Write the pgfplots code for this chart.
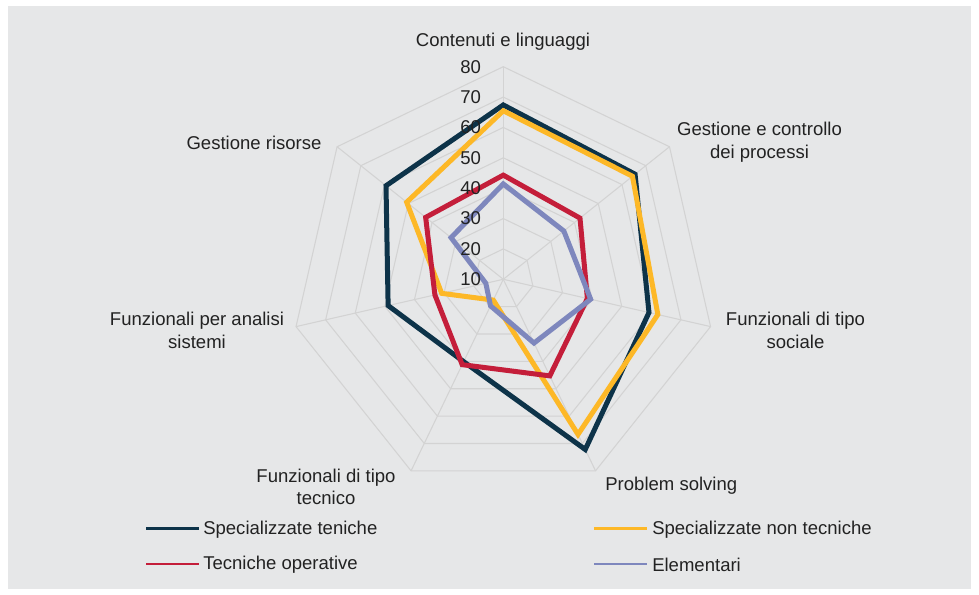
\documentclass[border=0pt]{standalone}
\usepackage{pgfplots}
\pgfplotsset{compat=1.18}
\usepackage{pgfplotstable}
\usepgfplotslibrary{polar}
\usepackage{fontspec}
\setmainfont{Liberation Sans}

\definecolor{bg}{HTML}{E6E7E8}
\definecolor{gridc}{HTML}{D3D3D3}
\definecolor{txt}{HTML}{222222}
\definecolor{cNavy}{HTML}{0D3349}
\definecolor{cYellow}{HTML}{FDB827}
\definecolor{cRed}{HTML}{C41E3A}
\definecolor{cBlue}{HTML}{7E87BD}

% values on the chart's scale (10 at the centre, 80 at the outer ring)
\pgfplotstableread{
angle   st    snt   to    el
90      67.4  65.5  44.3  41.4
38.571  65.5  64.4  42.3  35.5
347.143 59.2  62.2  38.4  39.5
295.714 72.2  66.7  45.3  33.3
244.286 40.1  17.6  41.2  19.7
192.857 48.9  30.8  33.1  15.9
141.429 59.4  50.7  42.7  32.0
}\radar

\begin{document}
\fontsize{13.9}{17}\selectfont
\begin{tikzpicture}[x=0.75pt,y=0.75pt]
\fill[white] (0,0) rectangle (979,595);
\fill[bg] (8,6) rectangle (971,589);

\begin{polaraxis}[
    at={(377.475pt,236.775pt)}, anchor=center,
    hide axis, scale only axis,
    width=318.9pt, height=318.9pt,
    xmin=0, xmax=360, ymin=0, ymax=70,
    clip=false,
  ]
  % grid rings
  \pgfplotsinvokeforeach{10,20,30,40,50,60,70}{
    \addplot[gridc, line width=0.8pt, forget plot] coordinates
      {(90,#1) (38.571,#1) (347.143,#1) (295.714,#1) (244.286,#1) (192.857,#1) (141.429,#1)} -- cycle;
  }
  % spokes
  \pgfplotsinvokeforeach{90,38.571,347.143,295.714,244.286,192.857,141.429}{
    \addplot[gridc, line width=0.8pt, forget plot] coordinates {(#1,0) (#1,70)};
  }
  \addplot[cNavy, line width=3.75pt] table[x=angle, y expr=\thisrow{st}-10] {\radar} -- cycle;
  \addplot[cYellow, line width=3.75pt] table[x=angle, y expr=\thisrow{snt}-10] {\radar} -- cycle;
  \addplot[cRed, line width=3.75pt] table[x=angle, y expr=\thisrow{to}-10] {\radar} -- cycle;
  \addplot[cBlue, line width=3.75pt] table[x=angle, y expr=\thisrow{el}-10] {\radar} -- cycle;

  % radial tick labels
  \pgfplotsinvokeforeach{0,10,20,30,40,50,60,70}{
    \node[anchor=east, text=txt, inner sep=0pt, xshift=-16.5pt] at (axis cs:90,#1)
      {\pgfmathparse{int(#1+10)}\pgfmathresult};
  }
\end{polaraxis}

% category labels
\begin{scope}[every node/.style={text=txt, align=center, inner sep=0pt}]
  \node at (503,553) {Contenuti e linguaggi};
  \node at (759.5,453) {Gestione e controllo\\dei processi};
  \node at (795.5,264.7) {Funzionali di tipo\\sociale};
  \node at (671.3,109.3) {Problem solving};
  \node at (326,108) {Funzionali di tipo\\tecnico};
  \node at (197,264.5) {Funzionali per analisi\\sistemi};
  \node at (254,452.3) {Gestione risorse};
\end{scope}

% legend
\draw[cNavy, line width=2.2pt] (146,66.5) -- (199,66.5);
\node[anchor=west, text=txt, inner sep=0pt] at (203,65.5) {Specializzate teniche};
\draw[cYellow, line width=2.2pt] (594,66.5) -- (647,66.5);
\node[anchor=west, text=txt, inner sep=0pt] at (652,65.5) {Specializzate non tecniche};
\draw[cRed, line width=2.2pt] (146,31) -- (199,31);
\node[anchor=west, text=txt, inner sep=0pt] at (203,30) {Tecniche operative};
\draw[cBlue, line width=2.2pt] (594,31) -- (647,31);
\node[anchor=west, text=txt, inner sep=0pt] at (652,30) {Elementari};
\end{tikzpicture}
\end{document}
